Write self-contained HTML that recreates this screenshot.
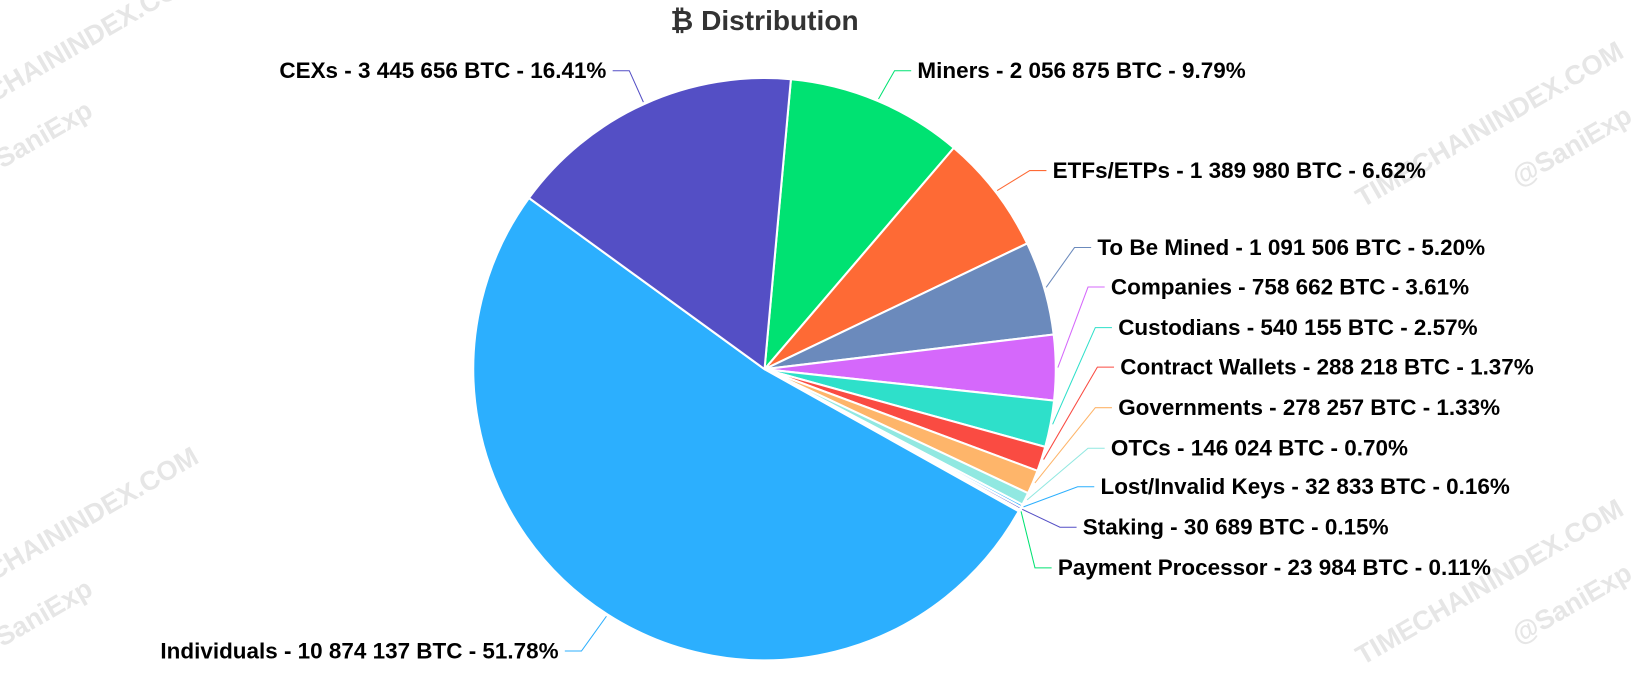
<!DOCTYPE html>
<html><head><meta charset="utf-8">
<style>
html,body{margin:0;padding:0;background:#fff;}
svg{display:block;font-family:"Liberation Sans",Arial,sans-serif;}
</style></head>
<body>
<svg id="chart" width="1631" height="676" viewBox="0 0 1568 650" preserveAspectRatio="none">
  <g fill="#e6e6e6" font-weight="bold" font-size="26">
    <text x="-60" y="130" transform="rotate(-30 -60 130)">TIMECHAININDEX.COM</text>
    <text x="-20" y="175" transform="rotate(-30 -20 175)">@SaniExp</text>
    <text x="-60" y="590" transform="rotate(-30 -60 590)">TIMECHAININDEX.COM</text>
    <text x="-20" y="635" transform="rotate(-30 -20 635)">@SaniExp</text>
    <text x="1310" y="200" transform="rotate(-30 1310 200)">TIMECHAININDEX.COM</text>
    <text x="1460" y="180" transform="rotate(-30 1460 180)">@SaniExp</text>
    <text x="1310" y="640" transform="rotate(-30 1310 640)">TIMECHAININDEX.COM</text>
    <text x="1460" y="620" transform="rotate(-30 1460 620)">@SaniExp</text>
  </g>
  <text x="735" y="29" text-anchor="middle" font-size="27" font-weight="bold" fill="#333">₿ Distribution</text>
  <g id="slices"></g>
  <g id="labels"></g>
</svg>
<script>
const categories = ["Miners","ETFs/ETPs","To Be Mined","Companies","Custodians","Contract Wallets","Governments","OTCs","Lost/Invalid Keys","Staking","Payment Processor","Individuals","CEXs"];
const btcValues = [2056875,1389980,1091506,758662,540155,288218,278257,146024,32833,30689,23984,10874137,3445656];
const percentLabels = ["9.79%","6.62%","5.20%","3.61%","2.57%","1.37%","1.33%","0.70%","0.16%","0.15%","0.11%","51.78%","16.41%"];
const colors = ["#00e272","#fe6a35","#6b8abc","#d568fb","#2ee0ca","#fa4b42","#feb56a","#91e8e1","#2caffe","#544fc5","#00e272","#2caffe","#544fc5"];
// label layout (not data): anchor positions
const labelX = [882,1012,1055,1068,1075,1077,1075,1068,1058,1041,1017,537,583];
const labelY = [68,164,238,276,315,353,392,431,468,507,546,626,68];

const cx=735, cy=355, R=280, startDeg=5.2;
const NS="http://www.w3.org/2000/svg";
const total = btcValues.reduce((a,b)=>a+b,0);
function pt(deg,r){const a=(deg-90)*Math.PI/180;return [cx+r*Math.cos(a),cy+r*Math.sin(a)];}
function fmt(n){return String(n).replace(/\B(?=(\d{3})+(?!\d))/g," ");}
const sg=document.getElementById('slices'), lg=document.getElementById('labels');
let acc=startDeg;
btcValues.forEach((v,i)=>{
  const sweep=v/total*360, a0=acc, a1=acc+sweep; acc=a1;
  const p0=pt(a0,R), p1=pt(a1,R);
  const path=document.createElementNS(NS,'path');
  path.setAttribute('d',`M${cx},${cy}L${p0[0]},${p0[1]}A${R},${R} 0 ${sweep>180?1:0} 1 ${p1[0]},${p1[1]}Z`);
  path.setAttribute('fill',colors[i]);
  path.setAttribute('stroke','#fff');
  path.setAttribute('stroke-width','2');
  path.setAttribute('stroke-linejoin','round');
  
  
  sg.appendChild(path);
  const mid=(a0+a1)/2, e=pt(mid,R+2);
  const right = labelX[i]>cx;
  const lx = right ? labelX[i]-6 : labelX[i]+6;
  const bx = right ? lx-16 : lx+16;
  const line=document.createElementNS(NS,'path');
  line.setAttribute('d',`M${e[0]},${e[1]}L${bx},${labelY[i]}L${lx},${labelY[i]}`);
  line.setAttribute('fill','none');
  line.setAttribute('stroke',colors[i]);
  line.setAttribute('stroke-width','1');
  
  
  lg.appendChild(line);
  const t=document.createElementNS(NS,'text');
  t.setAttribute('x',labelX[i]);
  t.setAttribute('y',labelY[i]+7);
  t.setAttribute('text-anchor',right?'start':'end');
  t.setAttribute('font-size','21.6');
  t.setAttribute('font-weight','bold');
  t.setAttribute('fill','#000');
  
  
  t.textContent=`${categories[i]} - ${fmt(v)} BTC - ${percentLabels[i]}`;
  lg.appendChild(t);
});
</script>
</body></html>
